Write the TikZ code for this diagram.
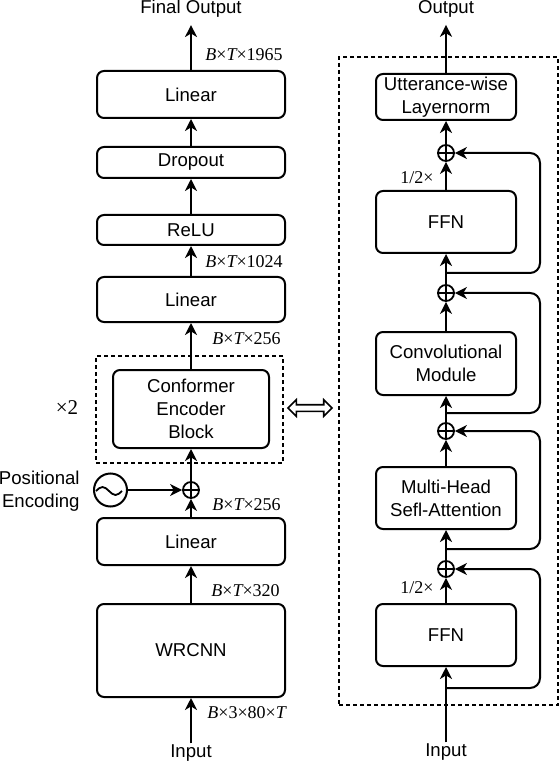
\documentclass[tikz,border=0pt]{standalone}
\usepackage{fontspec}
\setmainfont{Liberation Sans}
\newfontfamily\lblserif{Liberation Serif}
\usetikzlibrary{arrows.meta, positioning, shapes.arrows, calc}

\begin{document}
\begin{tikzpicture}[x=0.5pt, y=-0.5pt,
  block/.style={draw, rounded corners=3.5pt, line width=1pt, align=center, inner sep=0pt, font=\fontsize{9.3}{11.5}\selectfont},
  plain/.style={inner xsep=0pt, font=\fontsize{9.3}{11.5}\selectfont},
  dimlbl/.style={anchor=west, inner sep=0pt, font=\lblserif\fontsize{9}{10}\selectfont},
  plusop/.style={circle, draw, line width=0.9pt, minimum size=8pt, inner sep=0pt,
    path picture={\draw[line width=0.9pt] (path picture bounding box.north) -- (path picture bounding box.south)
      (path picture bounding box.west) -- (path picture bounding box.east);}},
  flow/.style={line width=1pt, -{Stealth[length=6pt, width=6pt, inset=1.8pt]}},
  skipline/.style={flow, rounded corners=5pt},
  frame/.style={draw, line width=0.8pt, dash pattern=on 2pt off 1.5pt, inner sep=0pt}]
  \useasboundingbox (0,0) rectangle (560,764);

  % left: whole network
  \node[plain, inner ysep=3.5pt] (fout) at (191,9) {Final Output};
  \node[block, minimum width=94pt, minimum height=23.5pt] (lin1) at (191,94.5) {Linear};
  \node[block, minimum width=94pt, minimum height=15.5pt] (drop) at (191,162.5) {Dropout};
  \node[block, minimum width=94pt, minimum height=15pt] (relu) at (191,230) {ReLU};
  \node[block, minimum width=94pt, minimum height=22.5pt] (lin2) at (191,299.5) {Linear};
  \node[frame, minimum width=93.5pt, minimum height=53.5pt] (rep) at (189.5,409.5) {};
  \node[block, minimum width=78pt, minimum height=39pt] (conf) at (191,409) {Conformer\\Encoder\\Block};
  \node[font=\lblserif\fontsize{10.5}{11}\selectfont] (reptimes) at (67,408) {×2};
  \node[plusop] (addpe) at (191,490) {};
  \node[circle, draw, line width=1pt, minimum size=16.5pt, inner sep=0pt] (pe) at (110.5,490) {};
  \node[plain, anchor=east, align=right] (petxt) at (80,491) {Positional\\Encoding};
  \node[block, minimum width=94pt, minimum height=23.5pt] (lin3) at (191,541.5) {Linear};
  \node[block, minimum width=94pt, minimum height=46.5pt] (wrcnn) at (191,650.5) {WRCNN};
  \node[plain, inner ysep=0.5pt] (inl) at (191,753) {Input};

  \draw[line width=0.9pt] ($(pe.west)+(3,1)$) sin ++(6.5,-4) cos ++(6.5,4) sin ++(6.5,4) cos ++(6.5,-4);

  \draw[flow] (inl) -- (wrcnn);
  \draw[flow] (wrcnn) -- (lin3);
  \draw[flow] (lin3) -- (addpe);
  \draw[flow] (pe) -- (addpe);
  \draw[flow] (addpe) -- (conf);
  \draw[flow] (conf) -- (lin2);
  \draw[flow] (lin2) -- (relu);
  \draw[flow] (relu) -- (drop);
  \draw[flow] (drop) -- (lin1);
  \draw[flow] (lin1) -- (fout);

  \node[dimlbl] (d1965) at (205,55) {{\itshape B}×{\itshape T}×1965};
  \node[dimlbl] (d1024) at (205,262) {{\itshape B}×{\itshape T}×1024};
  \node[dimlbl] (d256a) at (212,339) {{\itshape B}×{\itshape T}×256};
  \node[dimlbl] (d256b) at (212,505) {{\itshape B}×{\itshape T}×256};
  \node[dimlbl] (d320) at (211,591) {{\itshape B}×{\itshape T}×320};
  \node[dimlbl] (dinput) at (207,713) {{\itshape B}×3×80×{\itshape T}};

  % link between the two halves
  \node[double arrow, draw, line width=0.8pt, minimum height=22pt, double arrow head extend=2.5pt, inner sep=1.25pt] (link) at (310,408) {};

  % right: conformer block
  \node[frame, minimum width=109.5pt, minimum height=324pt] (cblock) at (448.5,381) {};
  \node[plain, inner ysep=3.5pt] (outr) at (446,9) {Output};
  \node[block, minimum width=70pt, minimum height=23pt] (lnorm) at (446,97) {Utterance-wise\\Layernorm};
  \node[plusop] (add4) at (446,153) {};
  \node[block, minimum width=70pt, minimum height=31pt] (ffnb) at (446,222) {FFN};
  \node[plusop] (add3) at (446,293) {};
  \node[block, minimum width=70pt, minimum height=31.5pt] (conv) at (446,363.5) {Convolutional\\Module};
  \node[plusop] (add2) at (446,431) {};
  \node[block, minimum width=70pt, minimum height=31pt] (mhsa) at (446,498) {Multi-Head\\Sefl-Attention};
  \node[plusop] (add1) at (446,569) {};
  \node[block, minimum width=70pt, minimum height=31pt] (ffna) at (446,635) {FFN};
  \node[plain, inner ysep=0.5pt] (inr) at (446,752) {Input};

  \node[font=\lblserif\fontsize{9}{10}\selectfont] (halfb) at (417,178) {1/2×};
  \node[font=\lblserif\fontsize{9}{10}\selectfont] (halfa) at (417,588) {1/2×};

  \draw[flow] (inr) -- (ffna);
  \draw[flow] (ffna) -- (add1);
  \draw[flow] (add1) -- (mhsa);
  \draw[flow] (mhsa) -- (add2);
  \draw[flow] (add2) -- (conv);
  \draw[flow] (conv) -- (add3);
  \draw[flow] (add3) -- (ffnb);
  \draw[flow] (ffnb) -- (add4);
  \draw[flow] (add4) -- (lnorm);
  \draw[flow] (lnorm) -- (outr);

  % residual paths
  \coordinate (s1) at (446,688);
  \coordinate (s2) at (446,549);
  \coordinate (s3) at (446,413);
  \coordinate (s4) at (446,273);
  \foreach \from/\to in {s1/add1, s2/add2, s3/add3, s4/add4}
    \draw[skipline] (\from) -- ++(94,0) |- (\to);
\end{tikzpicture}
\end{document}
